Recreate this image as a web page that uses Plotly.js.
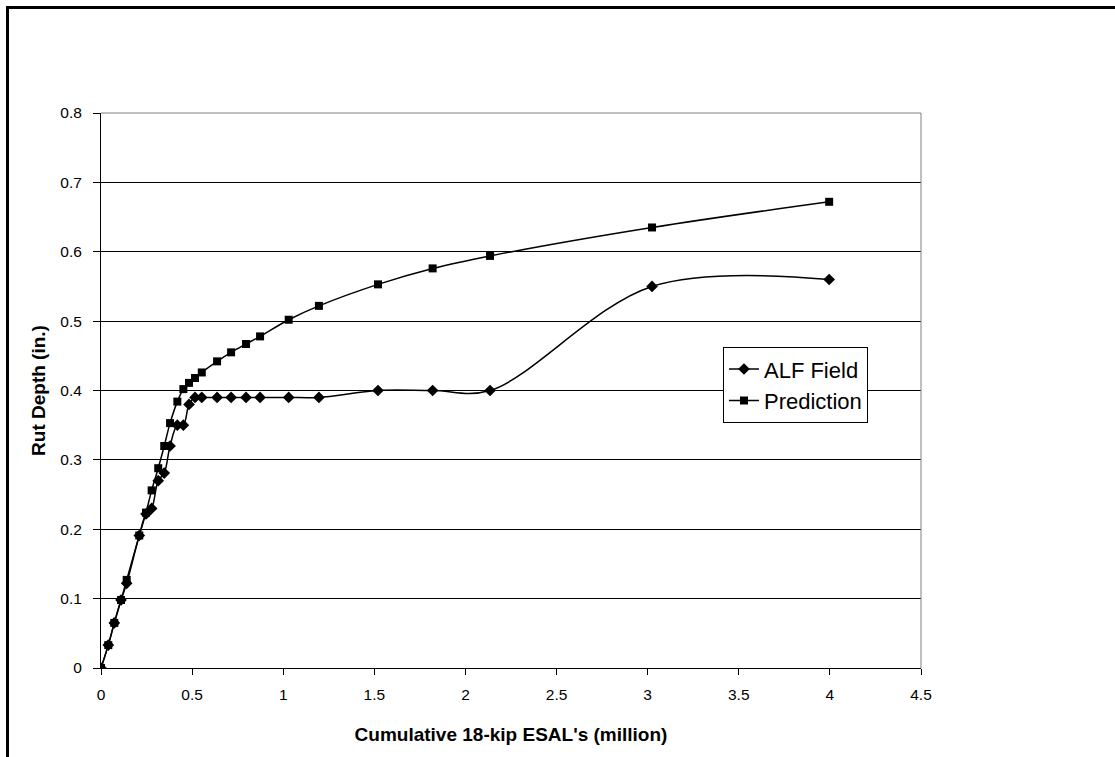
<!DOCTYPE html>
<html>
<head>
<meta charset="utf-8">
<script src="https://cdn.plot.ly/plotly-3.0.1.min.js"></script>
<style>
  html, body { margin: 0; padding: 0; background: #fff; }
  #wrap { position: relative; width: 1115px; height: 757px; overflow: hidden; }
  #chart { width: 1115px; height: 757px; }
  #frame { position: absolute; left: 6px; top: 6px; width: 1200px; height: 900px;
           border-top: 3px solid #000; border-left: 3px solid #000; pointer-events: none; }
</style>
</head>
<body>
<div id="wrap">
  <div id="chart"></div>
  <div id="frame"></div>
</div>
<script>
const esal = [0, 0.04, 0.073, 0.11, 0.141, 0.21, 0.247, 0.278, 0.314, 0.347, 0.379, 0.419, 0.452, 0.483, 0.516, 0.553, 0.637, 0.714, 0.796, 0.873, 1.03, 1.196, 1.52, 1.82, 2.135, 3.024, 3.996];
const alfField = [0, 0.033, 0.065, 0.098, 0.122, 0.191, 0.222, 0.23, 0.27, 0.281, 0.32, 0.35, 0.35, 0.38, 0.39, 0.39, 0.39, 0.39, 0.39, 0.39, 0.39, 0.39, 0.40, 0.40, 0.40, 0.55, 0.56];
const prediction = [0, 0.033, 0.065, 0.098, 0.127, 0.191, 0.224, 0.256, 0.288, 0.32, 0.353, 0.384, 0.402, 0.411, 0.418, 0.426, 0.442, 0.455, 0.467, 0.478, 0.502, 0.522, 0.553, 0.576, 0.594, 0.635, 0.672];
const seriesNames = ["ALF Field", "Prediction"];
const xTitle = "Cumulative 18-kip ESAL's (million)";
const yTitle = "Rut Depth (in.)";

const font = "Arial, 'Liberation Sans', sans-serif";

const traces = [
  {
    x: esal, y: alfField, name: seriesNames[0], type: "scatter", mode: "lines+markers",
    line: { color: "#000", width: 1.5, shape: "spline", smoothing: 1 },
    marker: { symbol: "diamond", size: 9, color: "#000" }
  },
  {
    x: esal, y: prediction, name: seriesNames[1], type: "scatter", mode: "lines+markers",
    line: { color: "#000", width: 1.5, shape: "spline", smoothing: 1 },
    marker: { symbol: "square", size: 8, color: "#000" }
  }
];

const layout = {
  width: 1115, height: 757,
  margin: { l: 101, r: 194, t: 113, b: 89, pad: 0 },
  paper_bgcolor: "#fff", plot_bgcolor: "#fff",
  font: { family: font, color: "#000", size: 15 },
  showlegend: true,
  legend: {
    x: 0.7585, y: 0.578, xanchor: "left", yanchor: "top",
    bgcolor: "#fff", bordercolor: "#000", borderwidth: 1,
    font: { family: font, size: 22, color: "#000" },
    tracegroupgap: 0, itemwidth: 30
  },
  xaxis: {
    range: [0, 4.5], dtick: 0.5, tick0: 0,
    showline: true, linecolor: "#000", linewidth: 1,
    ticks: "outside", ticklen: 6, tickcolor: "#000", ticklabelstandoff: 6,
    showgrid: false, zeroline: false,
    tickfont: { family: font, size: 15.5, color: "#000" },
    title: { text: xTitle, font: { family: font, size: 19, color: "#000", weight: "bold" }, standoff: 26 },
    automargin: false
  },
  yaxis: {
    range: [0, 0.8], dtick: 0.1, tick0: 0,
    showline: true, linecolor: "#000", linewidth: 1,
    ticks: "outside", ticklen: 7, tickcolor: "#000", ticklabelstandoff: 8,
    showgrid: true, gridcolor: "#000", gridwidth: 1, zeroline: false,
    tickfont: { family: font, size: 15.5, color: "#000" },
    title: { text: yTitle, font: { family: font, size: 19, color: "#000", weight: "bold" }, standoff: 9 },
    automargin: false
  },
  shapes: [
    { type: "line", xref: "paper", yref: "paper", x0: 0, x1: 1, y0: 1, y1: 1, line: { color: "#808080", width: 1 }, layer: "above" },
    { type: "line", xref: "paper", yref: "paper", x0: 1, x1: 1, y0: 0, y1: 1, line: { color: "#808080", width: 1 }, layer: "above" }
  ]
};

Plotly.newPlot("chart", traces, layout, { displayModeBar: false, staticPlot: true });
</script>
</body>
</html>
